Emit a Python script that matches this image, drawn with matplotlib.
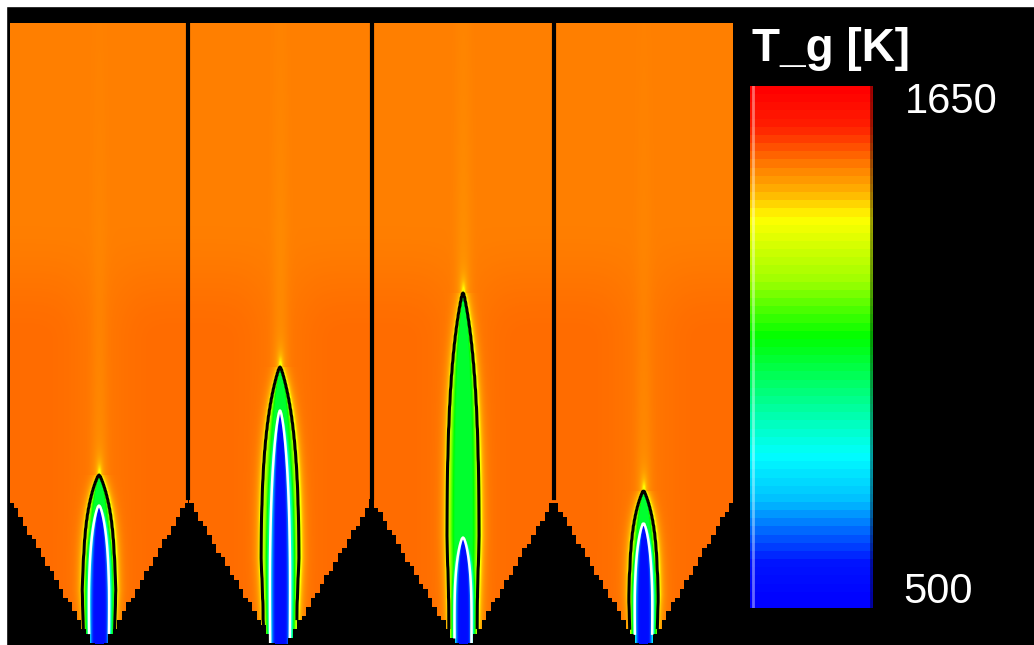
import numpy as np
import matplotlib.pyplot as plt
from matplotlib import colors
from matplotlib.patches import Rectangle

W_FIG, H_FIG = 1034, 645

# geometry and flame shapes (pixel units)
walls = [10, 188, 372, 554, 733]
flame_tip = [475, 367, 293, 491]       # y of the outer flame tip
flame_halfwidth = [17, 20, 17, 15]
core_tip = [505, 410, 537, 523]        # y of the top of the cold jet core
core_halfwidth = [11.5, 11, 9.5, 10]
top_y, shoulder_y, nozzle_y = 24, 498, 640

# temperatures [K]
t_min, t_max = 500, 1650
t_ambient_top, t_ambient_mid = 1478, 1496
t_flame = 1050
t_edge = 1300
t_jet = 560
t_black_line, t_white_line = 1294, 800

# colour scale of the original legend
cmap_pos = [0.0, 0.08, 0.13, 0.20, 0.29, 0.38, 0.52, 0.63, 0.75, 0.80, 0.85, 0.93, 1.0]
cmap_rgb = [(0, 0, 255), (0, 20, 255), (0, 85, 255), (0, 190, 255), (0, 255, 255),
            (0, 255, 160), (0, 255, 0), (160, 255, 0), (255, 255, 0), (255, 180, 0),
            (255, 128, 0), (255, 30, 0), (255, 0, 0)]
cmap = colors.LinearSegmentedColormap.from_list(
    'tg', [(p, tuple(c / 255 for c in rgb)) for p, rgb in zip(cmap_pos, cmap_rgb)], N=2048)
cmap.set_bad('black')
norm = colors.Normalize(t_min, t_max)

xs = np.arange(walls[0], walls[-1])
ys = np.arange(top_y, H_FIG)
X, Y = np.meshgrid(xs, ys)
T = np.full(X.shape, np.nan)

cell = 4.5
QX = (np.floor(X / cell) + 0.5) * cell
QY = np.floor(Y / cell) * cell


def smoothstep(u):
    u = np.clip(u, 0, 1)
    return u * u * (3 - 2 * u)


for i in range(4):
    left, right = walls[i], walls[i + 1]
    cx = (left + right) / 2
    half = (right - left) / 2
    dx = X - cx
    adx = np.abs(dx)
    slope = (half - 8) / (nozzle_y - shoulder_y)
    ok = (X >= left) & (X < right) & (np.abs(QX - cx) <= 8 + (nozzle_y - QY) * slope)

    amb = t_ambient_top + (t_ambient_mid - t_ambient_top) * smoothstep((Y - 220) / 120) \
        * (1 - 0.6 * np.exp(-(dx / 30) ** 2))
    # faint plume above each flame
    above = np.clip(flame_tip[i] - Y, 0, None)
    amb = amb - 22 * np.exp(-(dx / 8) ** 2) * np.exp(-above / 200)

    # outer flame (ogive shaped)
    L = nozzle_y - flame_tip[i]
    s = np.clip((nozzle_y - Y) / L, 0, None)
    hw = flame_halfwidth[i] * np.clip(1 - s ** 4, 0, 1) ** 0.85 * (0.8 + 0.2 * np.clip(s / 0.3, 0, 1))
    hw = np.maximum(hw, 1e-3)
    g = np.where(s < 1, adx / hw, 99)
    inner = t_flame + (t_edge - t_flame) * smoothstep((g - 0.45) / 0.55)
    d_out = np.where(s < 1, adx - hw, np.hypot(dx * 1.5, above / 3))
    outer = amb - (amb - t_edge) * np.exp(-np.clip(d_out, 0, None) / 3)
    Ti = np.where(g < 1, inner, outer)

    # cold jet core
    Lc = nozzle_y - core_tip[i]
    sc = np.clip((nozzle_y - Y) / Lc, 0, None)
    hwc = core_halfwidth[i] * np.clip(1 - sc ** 3, 0, 1) ** 0.7
    gc = np.where(sc < 1, adx / np.maximum(hwc, 1e-3), 99)
    fc = 1 - smoothstep((gc - 0.3) / 1.3)
    Ti = Ti - (Ti - t_jet) * fc

    T = np.where(ok, Ti, T)

Tm = np.ma.masked_invalid(T)

fig = plt.figure(figsize=(W_FIG / 100, H_FIG / 100), dpi=100, facecolor='black')
ax = fig.add_axes([0, 0, 1, 1])
ax.set_facecolor('black')
ax.imshow(Tm, cmap=cmap, norm=norm, interpolation='nearest',
          extent=(xs[0] - 0.5, xs[-1] + 0.5, ys[-1] + 0.5, ys[0] - 0.5))
ax.contour(X, Y, Tm, levels=[t_black_line], colors='black', linewidths=2.2)
ax.contour(X, Y, Tm, levels=[t_white_line], colors='white', linewidths=1.8)

# panel dividers
for w in walls[1:-1]:
    ax.plot([w, w], [top_y, shoulder_y], color='black', lw=3)

ax.set_xlim(0, W_FIG)
ax.set_ylim(H_FIG, 0)
ax.axis('off')

# white strips at the top and left edge of the original picture
ax.add_patch(Rectangle((0, 0), W_FIG, 6, color='white', zorder=5))
ax.add_patch(Rectangle((0, 0), 6, H_FIG, color='white', zorder=5))

# colour legend
bar_x0, bar_x1, bar_y0, bar_y1 = 750, 873, 86, 608
cax = fig.add_axes([bar_x0 / W_FIG, 1 - bar_y1 / H_FIG,
                    (bar_x1 - bar_x0) / W_FIG, (bar_y1 - bar_y0) / H_FIG])
grad = np.linspace(t_min, t_max, 256).reshape(-1, 1)
cax.imshow(grad, cmap=cmap.resampled(64), norm=norm, aspect='auto', origin='lower',
           interpolation='nearest')
cax.axvline(-0.475, color='white', lw=2, alpha=0.4)
cax.axvline(0.485, color='black', lw=2, alpha=0.4)
cax.axis('off')

font = 'Liberation Sans'
ax.text(752, 61, 'T_g [K]', color='white', fontsize=33, fontweight='bold',
        family=font, ha='left', va='baseline')
ax.text(905, 113, '1650', color='white', fontsize=30, family=font, ha='left', va='baseline')
ax.text(903, 603, '500', color='white', fontsize=30, family=font, ha='left', va='baseline')

plt.savefig('out.png', dpi=100, facecolor='black')
